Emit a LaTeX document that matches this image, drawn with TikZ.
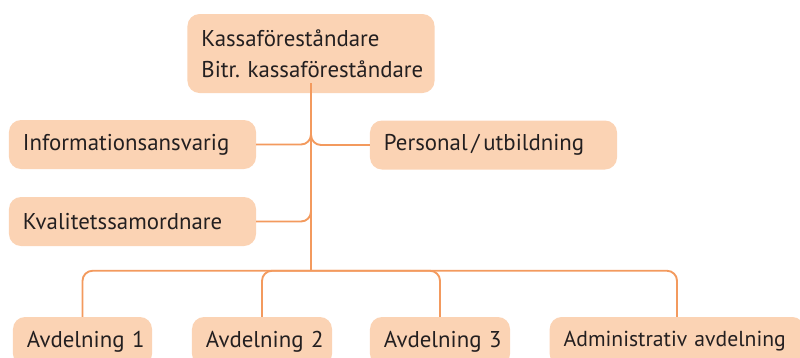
\documentclass[tikz,border=0pt]{standalone}
\usepackage{fontspec}
\setmainfont{PT Sans}
\usetikzlibrary{positioning,calc}
\definecolor{cLine}{HTML}{F39A5E}
\definecolor{cFill}{HTML}{FBD3B4}
\definecolor{cText}{HTML}{231F20}
\tikzset{
  unit/.style={fill=cFill,text=cText,rounded corners=0.36cm,font=\fontsize{19.5}{26.4}\selectfont,
    align=left,inner xsep=0.42cm,inner ysep=0pt,minimum height=1.47cm},
  link/.style={draw=cLine,line width=1.6pt,rounded corners=0.3cm}}
\begin{document}
\begin{tikzpicture}[x=0.03cm,y=-0.03cm]
  \useasboundingbox (0,0) rectangle (800,357);
  \node[unit,minimum height=2.37cm,text width=6.57cm] (boss) at (311,53.5) {\mbox{Kassaföreståndare}\\\mbox{Bitr.\ kassaföreståndare}};
  \node[unit,text width=6.57cm] (info) at (132.5,144.5) {\mbox{Informationsansvarig}};
  \node[unit,text width=6.57cm] (pers) at (493.5,145) {\mbox{Personal\,/\,utbildning}};
  \node[unit,text width=6.57cm] (qual) at (132.5,221.5) {\mbox{Kvalitetssamordnare}};
  \node[unit,text width=3.33cm] (dep1) at (82.5,341.5) {\mbox{Avdelning 1}};
  \node[unit,text width=3.36cm] (dep2) at (262,341.5) {\mbox{Avdelning 2}};
  \node[unit,text width=3.36cm] (dep3) at (440,341.5) {\mbox{Avdelning 3}};
  \node[unit,font=\fontsize{18.5}{25}\selectfont,text width=6.8cm] (admin) at (677,341.5) {\mbox{Administrativ avdelning}};
  \coordinate (hub) at (boss.south |- dep1.north);
  \coordinate (hub) at ($(hub)+(0,-46)$);
  \draw[link] (info.east) -| (boss.south);
  \draw[link] (pers.west) -| (boss.south);
  \draw[link] (qual.east) -| (boss.south);
  \draw[link] (dep1.north) |- (hub) -| (admin.north);
  \draw[link] (dep2.north) |- (hub) -| (dep3.north);
  \draw[link,line width=1.8pt] (hub) |- (boss.south);
\end{tikzpicture}
\end{document}
